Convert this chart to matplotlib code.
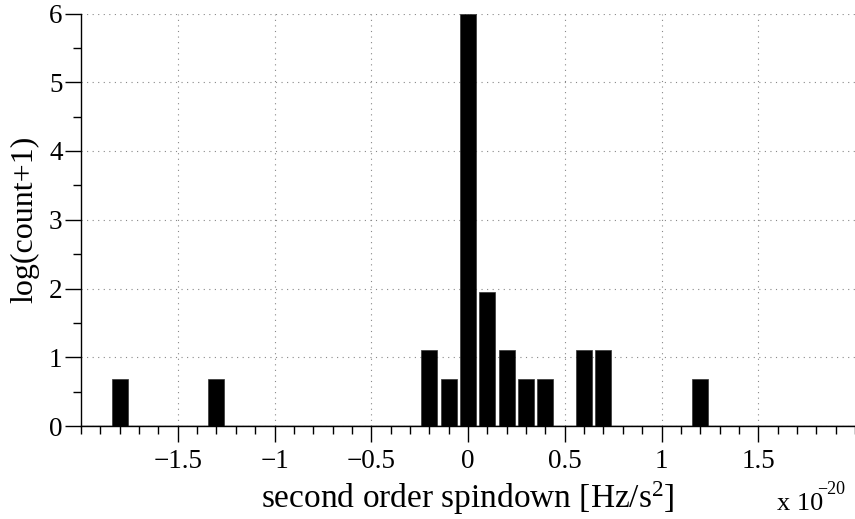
import numpy as np
import matplotlib
matplotlib.use("Agg")
import matplotlib.pyplot as plt
from matplotlib.ticker import FixedLocator

# bin centres (units of 1e-20 Hz/s^2) and log(count+1) heights
centers = [-1.8, -1.3, -0.2, -0.1, 0.0, 0.1, 0.2, 0.3, 0.4, 0.6, 0.7, 1.2]
heights = [0.69, 0.69, 1.10, 0.69, 6.0, 1.95, 1.10, 0.69, 0.69, 1.10, 1.10, 0.69]

xticks = [-1.5, -1, -0.5, 0, 0.5, 1, 1.5]
xticklabels = ["\u22121.5", "\u22121", "\u22120.5", "0", "0.5", "1", "1.5"]
yticks = [0, 1, 2, 3, 4, 5, 6]

plt.rcParams['font.family'] = ['Liberation Serif', 'DejaVu Serif']
plt.rcParams['mathtext.fontset'] = 'custom'
plt.rcParams['mathtext.rm'] = 'Liberation Serif'

W, H = 855, 519
fig = plt.figure(figsize=(W / 100, H / 100), dpi=100)
# axes box in pixels: left 81, right 855, top 13.5, bottom 426
ax = fig.add_axes([81 / W, 1 - 426 / H, 1 - 81 / W, (426 - 13.5) / H])

ax.bar(centers, heights, width=0.083, color='black', edgecolor='#333333', linewidth=0.5, zorder=3)
# the empty bins are just the baseline
ax.axhline(0, color='black', lw=1.0, zorder=4)

ax.set_xlim(-2, 2)
ax.set_ylim(0, 6)

ax.set_xticks(xticks)
ax.set_xticklabels(xticklabels)
ax.xaxis.set_minor_locator(FixedLocator(np.round(np.arange(-2.0, 2.01, 0.1), 2)))
ax.set_yticks(yticks)
ax.yaxis.set_minor_locator(FixedLocator(np.arange(0.5, 6, 1.0)))

ax.tick_params(which='major', direction='out', length=11.3, width=1.0, labelsize=19.5)
ax.tick_params(which='minor', direction='out', length=5.5, width=1.0)
ax.tick_params(axis='x', which='major', pad=5)
ax.tick_params(axis='y', which='major', pad=2)

ax.spines['top'].set_visible(False)
ax.spines['right'].set_visible(False)
ax.spines['left'].set_linewidth(1.0)
ax.spines['bottom'].set_linewidth(1.0)

ax.grid(True, which='major', color='#888888', linestyle=(0, (1, 4)), linewidth=0.8, zorder=0)
ax.set_axisbelow(True)

ax.set_xlabel("second order spindown [Hz/s$\\mathregular{^{2}}$]", fontsize=24)
ax.xaxis.label.set_va('baseline')
ax.xaxis.set_label_coords(0.5, (426 - 507.7) / 412.5)

ax.set_ylabel("log(count+1)", fontsize=23)
ax.yaxis.label.set_va('center')
ax.yaxis.set_label_coords((25 - 81) / 774, 0.5)

# MATLAB-style axis multiplier under the right end of the x axis
fig.text(777 / W, 1 - 510 / H, "x 10", fontsize=19, ha='left', va='baseline')
fig.text(817 / W, 1 - 494 / H, "\u221220", fontsize=13, ha='left', va='baseline')

fig.savefig("out.png", dpi=100)
